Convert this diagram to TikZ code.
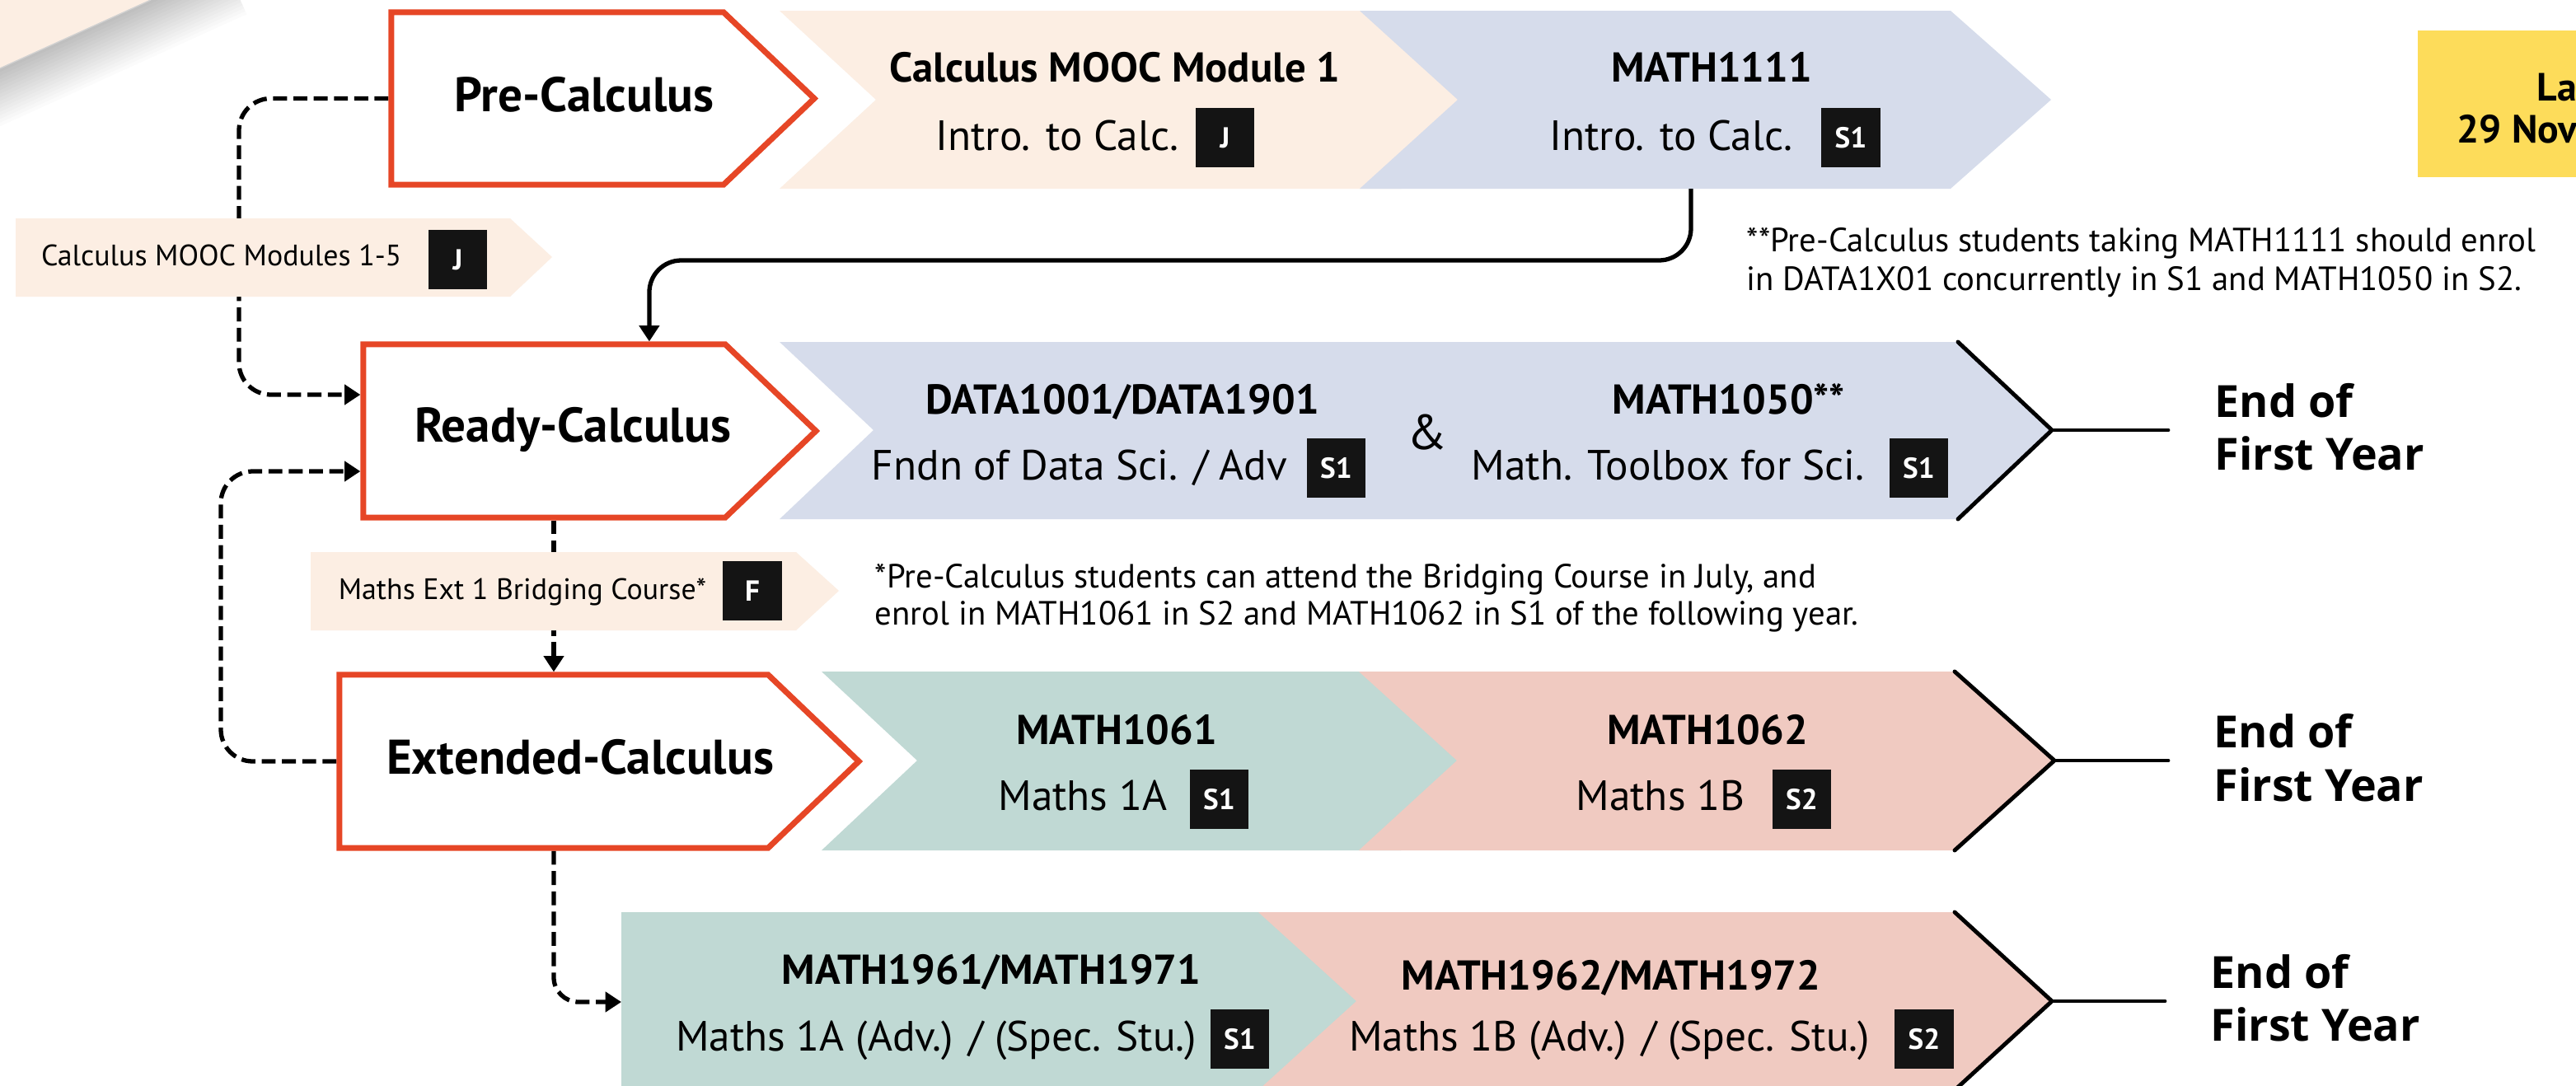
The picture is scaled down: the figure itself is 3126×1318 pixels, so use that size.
\documentclass[tikz,border=0pt]{standalone}
\usepackage{fontspec}
\setmainfont{PT Sans}
\newfontfamily\eoffont{Open Sans}
\usetikzlibrary{arrows.meta,calc}
\definecolor{ochre}{HTML}{E64626}
\definecolor{peach}{HTML}{FCEEE3}
\definecolor{lblue}{HTML}{D6DCEB}
\definecolor{lteal}{HTML}{C0D9D4}
\definecolor{lpink}{HTML}{F0CAC1}
\definecolor{lyellow}{HTML}{FDDC5A}
\definecolor{badgec}{HTML}{141414}
\tikzset{
  stagebox/.style={draw=ochre, line width=2pt, fill=white, line join=miter},
  boxarea/.style={inner sep=0pt, outer sep=0pt, draw=none},
  stagelbl/.style={font=\bfseries\fontsize{16.8}{19}\selectfont, anchor=base, inner sep=0pt},
  codelbl/.style={font=\bfseries\fontsize{14.4}{17}\selectfont, anchor=base, inner sep=0pt},
  namelbl/.style={font=\fontsize{14.6}{17}\selectfont, anchor=base east, inner sep=0pt},
  sidelbl/.style={font=\fontsize{10.2}{12}\selectfont, anchor=base east, inner sep=0pt},
  notelbl/.style={font=\fontsize{11.6}{13}\selectfont, anchor=base west, inner sep=0pt},
  badge/.style={fill=badgec, text=white, font=\bfseries\fontsize{10}{12}\selectfont, minimum width=0.715cm, minimum height=0.72cm, inner sep=0pt},
  eoflbl/.style={font=\eoffont\bfseries\fontsize{15.3}{18}\selectfont, anchor=base west, inner sep=0pt},
  datelbl/.style={font=\bfseries\fontsize{13.6}{16}\selectfont, anchor=base west, inner sep=0pt},
  blkedge/.style={line width=1.4pt, line cap=round, line join=miter},
  conn/.style={line width=1.5pt, rounded corners=11pt, -{Triangle[length=5.5pt,width=6.8pt]}, shorten >=1pt},
  dconn/.style={conn, dash pattern=on 4.8pt off 2.2pt, shorten <=1pt},
}
\begin{document}
\begin{tikzpicture}[x=0.01cm, y=-0.01cm]
\useasboundingbox (0,0) rectangle (3126,1318);
\begin{scope}
\clip (0,0) rectangle (3126,1318);
\fill[white] (0,0) rectangle (3126,1318);
% folded corner with shadow
\foreach \k in {1,...,16}{
  \pgfmathsetmacro\dd{4*\k}
  \fill[black, opacity=0.014] (-273,207) -- (273,-41) -- ({273+0.413*\dd},{-41+0.910*\dd}) -- ({-273+0.413*\dd},{207+0.910*\dd}) -- cycle;
}
\fill[peach] (0,0) -- (183,0) -- (0,83) -- cycle;
\draw[black!18, line width=0.4pt] (0,83) -- (183,0);

% row 1 chevrons
\fill[peach] (946,13) -- (1700,13) -- (1819,121) -- (1700,229) -- (946,229) -- (1063,121) -- cycle;
\fill[lblue] (1650,13) -- (2367,13) -- (2489,121) -- (2367,229) -- (1650,229) -- (1769,121) -- cycle;
% row 2
\fill[lblue] (946,415) -- (2376,415) -- (2490,522) -- (2376,630) -- (946,630) -- (1060,522) -- cycle;
% row 3
\fill[lteal] (997,815) -- (1700,815) -- (1819,923) -- (1700,1032) -- (997,1032) -- (1113,923) -- cycle;
\fill[lpink] (1649,815) -- (2372,815) -- (2493,923) -- (2372,1032) -- (1649,1032) -- (1768,923) -- cycle;
% row 4
\fill[lteal] (754,1107) -- (1600,1107) -- (1720,1215) -- (1600,1323) -- (754,1323) -- cycle;
\fill[lpink] (1527,1107) -- (2372,1107) -- (2490,1215) -- (2372,1323) -- (1527,1323) -- (1646,1215) -- cycle;

% end-of-year edges
\coordinate (tipB) at (2490,522);
\coordinate (tipC) at (2493,923);
\coordinate (tipD) at (2490,1215);
\coordinate (endB) at (2631,522);
\coordinate (endC) at (2631,923);
\coordinate (endD) at (2627,1215);
\draw[blkedge] (2376,415) -- (tipB) -- (2376,630);
\draw[blkedge] (tipB) -- (endB);
\draw[blkedge] (2372,815) -- (tipC) -- (2372,1032);
\draw[blkedge] (tipC) -- (endC);
\draw[blkedge] (2372,1107) -- (tipD) -- (2372,1323);
\draw[blkedge] (tipD) -- (endD);

% stage box areas
\node[boxarea, minimum width=4.03cm, minimum height=2.09cm] (pre) at (676.5,119.5) {};
\node[boxarea, minimum width=4.39cm, minimum height=2.10cm] (ready) at (660.5,523) {};
\node[boxarea, minimum width=5.20cm, minimum height=2.10cm] (ext) at (672,924) {};
\coordinate (m1111s) at (2052,229);
\coordinate (advw) at (754,1216);

% connectors
\draw[conn] (m1111s) -- (2052,316) -- (788,316) -- ($(ready.north west)+(347,0)$);
\draw[dconn] (pre.west) -- (290,119.5) -- (290,479) -- ($(ready.west)+(0,-44)$);
\draw[dconn] (ext.west) -- (268,924) -- (268,572) -- ($(ready.west)+(0,49)$);
\draw[dconn] (ready.south -| ext.north) -- (ext.north);
\draw[dconn, rounded corners=8.5pt, shorten >=0pt] (ext.south) -- (672,1216) -- (advw);

% side boxes
\fill[peach] (19,265) -- (619,265) -- (670,312) -- (619,360) -- (19,360) -- cycle;
\node[badge] (bJb) at (555.5,315) {J};
\node[sidelbl] (moocS) at (488,322) {Calculus MOOC Modules 1-5};
\fill[peach] (377,670) -- (966,670) -- (1018,717) -- (966,765) -- (377,765) -- cycle;
\node[badge] (bF) at (913,717) {F};
\node[sidelbl] (bridge) at (858,727) {Maths Ext 1 Bridging Course*};

% stage boxes
\draw[stagebox] (pre.north west) -- (pre.north east) -- ($(pre.east)+(110,0)$) -- (pre.south east) -- (pre.south west) -- cycle;
\draw[stagebox] (ready.north west) -- (ready.north east) -- ($(ready.east)+(110,0)$) -- (ready.south east) -- (ready.south west) -- cycle;
\draw[stagebox] (ext.north west) -- (ext.north east) -- ($(ext.east)+(110,0)$) -- (ext.south east) -- (ext.south west) -- cycle;
\node[stagelbl] (preL) at (709,135) {Pre-Calculus};
\node[stagelbl] (readyL) at (695,536) {Ready-Calculus};
\node[stagelbl] (extL) at (704,939) {Extended-Calculus};

% row 1 texts
\node[codelbl] (c1) at (1353,100) {Calculus MOOC Module 1};
\node[badge] (b1) at (1486.5,167) {J};
\node[namelbl] (n1) at (1431,182) {Intro. to Calc.};
\node[codelbl] (c2) at (2077,100) {MATH1111};
\node[badge] (b2) at (2246,167) {S1};
\node[namelbl] (n2) at (2176,182) {Intro. to Calc.};
% row 2 texts
\node[codelbl] (c3) at (1362,502) {DATA1001/DATA1901};
\node[badge] (b3) at (1621.5,568) {S1};
\node[namelbl] (n3) at (1563,582) {Fndn of Data Sci. / Adv};
\node[font=\fontsize{17}{20}\selectfont, anchor=base, inner sep=0pt] (amp) at (1732,545) {\&};
\node[codelbl] (c4) at (2098,502) {MATH1050**};
\node[badge] (b4) at (2328.5,568) {S1};
\node[namelbl] (n4) at (2263,582) {Math. Toolbox for Sci.};
% row 3 texts
\node[codelbl] (c5) at (1355,903) {MATH1061};
\node[badge] (b5) at (1479.5,970) {S1};
\node[namelbl] (n5) at (1417,983) {Maths 1A};
\node[codelbl] (c6) at (2072,903) {MATH1062};
\node[badge] (b6) at (2186.5,970) {S2};
\node[namelbl] (n6) at (2118,983) {Maths 1B};
% row 4 texts
\node[codelbl] (c7) at (1203,1194) {MATH1961/MATH1971};
\node[badge] (b7) at (1504.5,1261) {S1};
\node[namelbl] (n7) at (1453,1275) {Maths 1A (Adv.) / (Spec. Stu.)};
\node[codelbl] (c8) at (1955,1201) {MATH1962/MATH1972};
\node[badge] (b8) at (2335,1261) {S2};
\node[namelbl] (n8) at (2270,1275) {Maths 1B (Adv.) / (Spec. Stu.)};

% end of first year
\node[eoflbl] (eB1) at (2687,506) {End of};
\node[eoflbl] (eB2) at (2687,570) {First Year};
\node[eoflbl] (eC1) at (2686,907) {End of};
\node[eoflbl] (eC2) at (2686,972) {First Year};
\node[eoflbl] (eD1) at (2682,1199) {End of};
\node[eoflbl] (eD2) at (2682,1263) {First Year};

% notes
\node[notelbl] (na1) at (2119,305) {**Pre-Calculus students taking MATH1111 should enrol};
\node[notelbl] (na2) at (2119,352) {in DATA1X01 concurrently in S1 and MATH1050 in S2.};
\node[notelbl] (nb1) at (1061,713) {*Pre-Calculus students can attend the Bridging Course in July, and};
\node[notelbl] (nb2) at (1061,758) {enrol in MATH1061 in S2 and MATH1062 in S1 of the following year.};

% yellow date box
\fill[lyellow] (2934,37) rectangle (3140,215);
\node[datelbl] (d1) at (3078,122) {La};
\node[datelbl] (d2) at (2981,173) {29 Nove};
\end{scope}
\end{tikzpicture}
\end{document}
